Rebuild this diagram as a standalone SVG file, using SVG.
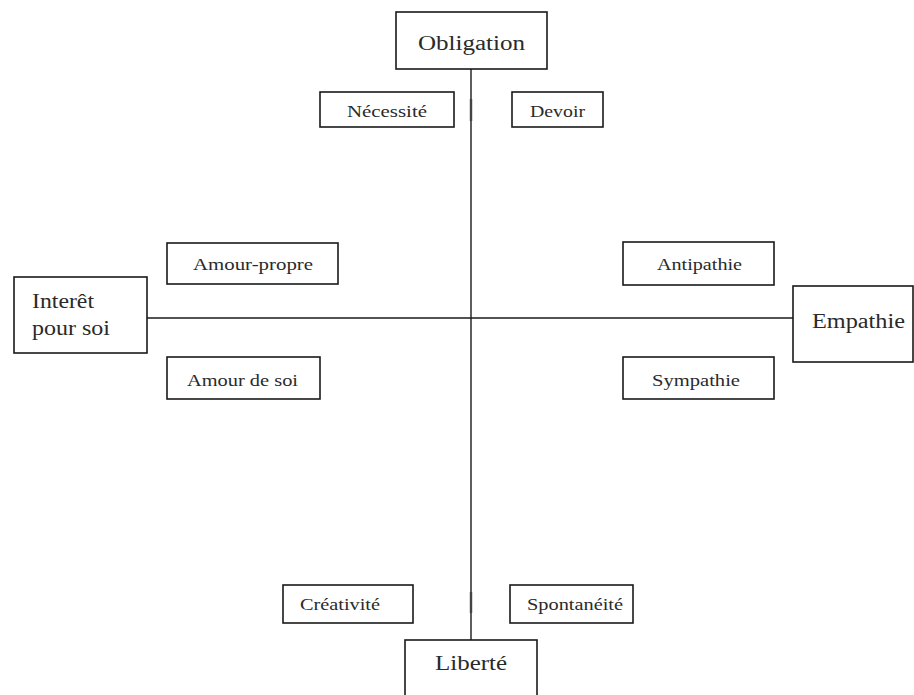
<svg xmlns="http://www.w3.org/2000/svg" width="914" height="695" viewBox="0 0 914 695">
<style>
.box{fill:#fff;stroke:#1a1a1a;stroke-width:1.6}
.t{font-family:"Liberation Serif","Times New Roman",serif;fill:#2a2a2a}
.s{font-size:16px}
.b{font-size:20px}
.ax{stroke:#1a1a1a;stroke-width:1.4;fill:none}
.tick{stroke:#444;stroke-width:2.4}
</style>
<rect width="914" height="695" fill="#fff"/>
<g id="connectors">
<line class="ax" x1="471" y1="69" x2="471" y2="640"/>
<line class="ax" x1="147" y1="318" x2="793" y2="318"/>
<line class="tick" x1="471" y1="99" x2="471" y2="121"/>
<line class="tick" x1="471" y1="592" x2="471" y2="613"/>
</g>
<g id="obligation">
<rect class="box" x="396" y="12" width="151" height="57"/>
<text class="t b" x="418" y="50" textLength="107" lengthAdjust="spacingAndGlyphs">Obligation</text>
</g>
<g id="necessite">
<rect class="box" x="320" y="92" width="134" height="35"/>
<text class="t s" x="347" y="117" textLength="80" lengthAdjust="spacingAndGlyphs">Nécessité</text>
</g>
<g id="devoir">
<rect class="box" x="512" y="92" width="91" height="35"/>
<text class="t s" x="530" y="117" textLength="55" lengthAdjust="spacingAndGlyphs">Devoir</text>
</g>
<g id="amour-propre">
<rect class="box" x="167" y="243" width="171" height="41"/>
<text class="t s" x="193" y="270" textLength="120" lengthAdjust="spacingAndGlyphs">Amour-propre</text>
</g>
<g id="antipathie">
<rect class="box" x="623" y="242" width="151" height="43"/>
<text class="t s" x="657" y="270" textLength="85" lengthAdjust="spacingAndGlyphs">Antipathie</text>
</g>
<g id="interet">
<rect class="box" x="14" y="277" width="133" height="76"/>
<text class="t b" x="32" y="308" textLength="62" lengthAdjust="spacingAndGlyphs">Interêt</text>
<text class="t b" x="32" y="335" textLength="78" lengthAdjust="spacingAndGlyphs">pour soi</text>
</g>
<g id="empathie">
<rect class="box" x="793" y="286" width="120" height="76"/>
<text class="t b" x="812" y="328" textLength="93" lengthAdjust="spacingAndGlyphs">Empathie</text>
</g>
<g id="amour-de-soi">
<rect class="box" x="167" y="357" width="153" height="42"/>
<text class="t s" x="187" y="386" textLength="111" lengthAdjust="spacingAndGlyphs">Amour de soi</text>
</g>
<g id="sympathie">
<rect class="box" x="623" y="357" width="151" height="42"/>
<text class="t s" x="652" y="386" textLength="88" lengthAdjust="spacingAndGlyphs">Sympathie</text>
</g>
<g id="creativite">
<rect class="box" x="283" y="585" width="130" height="38"/>
<text class="t s" x="300" y="610" textLength="80" lengthAdjust="spacingAndGlyphs">Créativité</text>
</g>
<g id="spontaneite">
<rect class="box" x="510" y="585" width="123" height="38"/>
<text class="t s" x="527" y="610" textLength="96" lengthAdjust="spacingAndGlyphs">Spontanéité</text>
</g>
<g id="liberte">
<rect class="box" x="405" y="640" width="132" height="60"/>
<text class="t b" x="435" y="670" textLength="72" lengthAdjust="spacingAndGlyphs">Liberté</text>
</g>
</svg>
